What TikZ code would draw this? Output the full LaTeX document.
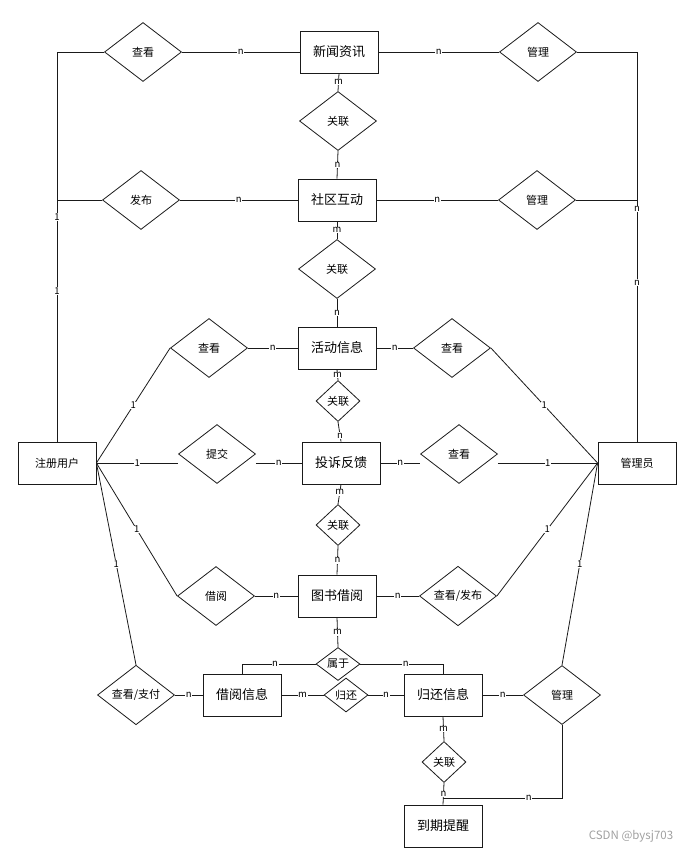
\documentclass[tikz,border=0pt]{standalone}
\usepackage{fontspec}
\setmainfont{Noto Sans CJK SC}
\usetikzlibrary{shapes.geometric}
\definecolor{cline}{HTML}{1A1A1A}
\definecolor{cmark}{HTML}{A0A0A0}
\tikzset{
  every picture/.style={line width=0.8pt, draw=cline},
  ent/.style={draw=cline, fill=white, minimum width=78pt, minimum height=42pt, inner sep=0pt, font=\fontsize{13}{15}\selectfont},
  rel/.style={draw=cline, diamond, fill=white, minimum width=77pt, minimum height=59pt, inner sep=0pt, font=\fontsize{11}{13}\selectfont},
  relsm/.style={rel, minimum width=44pt, minimum height=41pt},
  lbl/.style={fill=white, inner sep=0.6pt, font=\fontsize{9.5}{10}\selectfont},
}
\begin{document}
\begin{tikzpicture}[x=1pt, y=-1pt]
  \useasboundingbox (0,0) rectangle (686,850);
  % entities
  \node[ent] (news) at (339,52) {新闻资讯};
  \node[ent] (social) at (337,200) {社区互动};
  \node[ent] (activity) at (337,348) {活动信息};
  \node[ent] (complain) at (341,463) {投诉反馈};
  \node[ent] (book) at (337,596) {图书借阅};
  \node[ent] (borrowinfo) at (242,695) {借阅信息};
  \node[ent] (returninfo) at (443,695) {归还信息};
  \node[ent] (remind) at (443,826) {到期提醒};
  \node[ent, font=\fontsize{11}{13}\selectfont] (user) at (57,463) {注册用户};
  \node[ent, font=\fontsize{11}{13}\selectfont] (admin) at (637,463) {管理员};
  % relations
  \node[rel] (view1) at (143,52) {查看};
  \node[rel] (manage1) at (538,52) {管理};
  \node[rel] (rel1) at (338,121) {关联};
  \node[rel] (post) at (141,200) {发布};
  \node[rel] (manage2) at (537,200) {管理};
  \node[rel] (rel2) at (337,269) {关联};
  \node[rel] (view3) at (209,348) {查看};
  \node[rel] (view4) at (452,348) {查看};
  \node[relsm] (rel3) at (338,401) {关联};
  \node[rel] (submit) at (217,454) {提交};
  \node[rel] (view5) at (459,454) {查看};
  \node[relsm] (rel4) at (338,525) {关联};
  \node[rel] (borrow) at (216,596) {借阅};
  \node[rel] (viewpost) at (458,596) {查看/发布};
  \node[relsm, minimum height=33pt] (belong) at (338,664) {属于};
  \node[rel] (viewpay) at (136,695) {查看/支付};
  \node[relsm, minimum height=34pt] (ret) at (346,695) {归还};
  \node[rel] (manage3) at (562,695) {管理};
  \node[relsm] (rel5) at (444,762) {关联};
  % user side
  \draw (user.north) -- node[lbl, pos=0.387] {1} node[lbl, pos=0.577] {1} (user.north |- view1.west) -- (view1.west);
  \draw (post.west) -- (post.west -| user.north);
  \draw (user.east) -- node[lbl] {1} (view3.west);
  \draw (user.east) -- node[lbl] {1} (user.east -| submit.west);
  \draw (user.east) -- node[lbl] {1} (borrow.west);
  \draw (user.east) -- node[lbl] {1} (viewpay.north);
  % admin side
  \draw (admin.north) -- node[lbl, pos=0.408] {n} node[lbl, pos=0.597] {n} (admin.north |- manage1.east) -- (manage1.east);
  \draw (manage2.east) -- (manage2.east -| admin.north);
  \draw (view4.east) -- node[lbl] {1} (admin.west);
  \draw (view5.east |- admin.west) -- node[lbl] {1} (admin.west);
  \draw (viewpost.east) -- node[lbl] {1} (admin.west);
  \draw (admin.west) -- node[lbl] {1} (manage3.north);
  % middle column
  \draw (view1.east) -- node[lbl] {n} (news.west);
  \draw (news.east) -- node[lbl] {n} (manage1.west);
  \draw (news.south) -- node[lbl] {m} (rel1.north);
  \draw (rel1.south) -- node[lbl] {n} (social.north);
  \draw (post.east) -- node[lbl] {n} (social.west);
  \draw (social.east) -- node[lbl] {n} (manage2.west);
  \draw (social.south) -- node[lbl] {m} (rel2.north);
  \draw (rel2.south) -- node[lbl] {n} (activity.north);
  \draw (view3.east) -- node[lbl] {n} (activity.west);
  \draw (activity.east) -- node[lbl] {n} (view4.west);
  \draw (activity.south) -- node[lbl] {m} (rel3.north);
  \draw (rel3.south) -- node[lbl, pos=0.7] {n} (complain.north);
  \draw (submit.east |- complain.west) -- node[lbl] {n} (complain.west);
  \draw (complain.east) -- node[lbl] {n} (complain.east -| view5.west);
  \draw (complain.south) -- node[lbl, pos=0.4] {m} (rel4.north);
  \draw (rel4.south) -- node[lbl] {n} (book.north);
  \draw (borrow.east) -- node[lbl] {n} (book.west);
  \draw (book.east) -- node[lbl] {n} (viewpost.west);
  \draw (book.south) -- node[lbl] {m} (belong.north);
  % borrowing and returning
  \draw (belong.west) -- node[lbl, pos=0.55] {n} (belong.west -| borrowinfo.north) -- (borrowinfo.north);
  \draw (belong.east) -- node[lbl, pos=0.55] {n} (belong.east -| returninfo.north) -- (returninfo.north);
  \draw (viewpay.east) -- node[lbl] {n} (borrowinfo.west);
  \draw (borrowinfo.east) -- node[lbl] {m} (ret.west);
  \draw (ret.east) -- node[lbl] {n} (returninfo.west);
  \draw (returninfo.east) -- node[lbl] {n} (manage3.west);
  \draw (returninfo.south) -- node[lbl] {m} (rel5.north);
  \draw (rel5.south) -- node[lbl] {n} (remind.north);
  \coordinate (turn) at (562,798);
  \draw (manage3.south) -- (turn) -- node[lbl, pos=0.28] {n} (turn -| remind.north);
  \node[font=\fontsize{11.5}{13}\selectfont, text=cmark] (mark) at (631,836) {CSDN @bysj703};
\end{tikzpicture}
\end{document}
